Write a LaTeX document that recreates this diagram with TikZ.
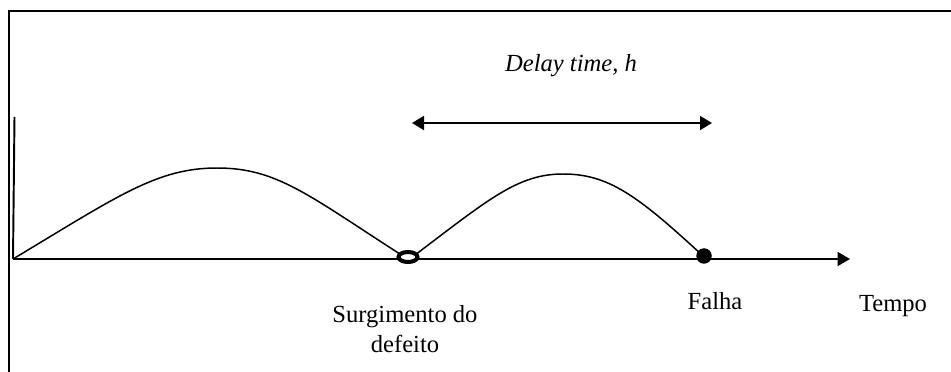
\documentclass[tikz,border=0pt]{standalone}
\usepackage{fontspec}
\setmainfont{Liberation Serif}
\usetikzlibrary{arrows.meta,shapes.geometric}

\begin{document}
\begin{tikzpicture}[
  x=0.02cm, y=0.02cm,
  axis/.style={line width=1.1pt, -{Triangle[length=0.25cm, width=0.28cm]}},
  curve/.style={line width=0.85pt},
  span/.style={line width=1pt, {Triangle[length=0.24cm, width=0.28cm]}-{Triangle[length=0.24cm, width=0.28cm]}},
  onsetmark/.style={draw, ellipse, line width=2.3pt, fill=white, minimum width=0.38cm, minimum height=0.2cm, inner sep=0pt},
  failmark/.style={circle, fill=black, minimum size=0.31cm, inner sep=0pt},
  lbl/.style={font=\fontsize{14}{17.6}\selectfont, anchor=base, align=center, inner sep=0pt},
]
\useasboundingbox (0,0) rectangle (951,372);

% frame
\draw[line width=1.1pt] (9,0) -- (9,361) -- (951,361);

\coordinate (orig) at (13,113);
\coordinate (ytop) at (14.5,255);
\coordinate (xend) at (850,113);
\coordinate (dl) at (412,249);
\coordinate (dr) at (712,249);

\draw[line width=1.1pt] (orig) -- (ytop);
\draw[axis] (orig) -- (xend);

\draw[curve] (orig) .. controls (118,176) and (157,204) .. (217,204)
  .. controls (277,204) and (308,177) .. (403,116);
\draw[curve] (415,117) .. controls (489,173) and (518,198) .. (563,198)
  .. controls (608,198) and (637,177) .. (702,117);

\node[onsetmark] (onset) at (408,115) {};
\node[failmark] (fail) at (704,116) {};

\draw[span] (dl) -- (dr);

\node[lbl, font=\fontsize{14}{17.6}\selectfont\itshape] (delay) at (571,300) {Delay time, h};
\node[lbl] (surg) at (405,19) {Surgimento do\\defeito};
\node[lbl] (falha) at (715,62) {Falha};
\node[lbl] (tempo) at (893,60) {Tempo};

\end{tikzpicture}
\end{document}
